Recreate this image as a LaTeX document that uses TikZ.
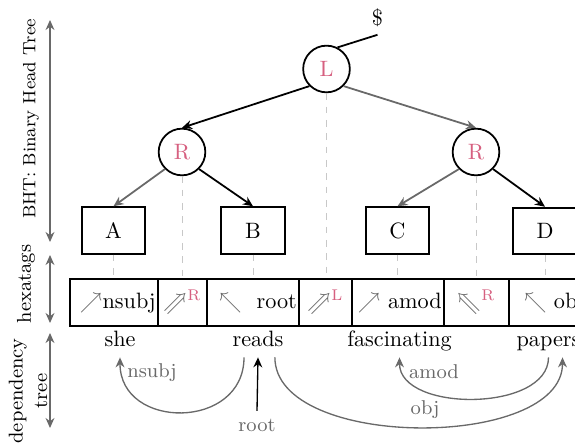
\documentclass[tikz,border=0pt]{standalone}
\usepackage{amsmath}
\usepackage{unicode-math}
\usepackage{tikz}
\usetikzlibrary{arrows.meta}

\definecolor{edgegray}{RGB}{105,105,105}
\definecolor{dashgray}{RGB}{200,200,200}
\definecolor{tagpink}{RGB}{214,96,128}

\tikzset{
  headnode/.style={draw, thick, circle, minimum size=21pt, inner sep=0pt, text=tagpink},
  leafnode/.style={draw, thick, minimum width=28.5pt, minimum height=21pt, inner sep=0pt},
  tagcell/.style={draw, thick, minimum height=21pt, inner xsep=1pt, inner ysep=0pt, outer sep=0pt, text height=1.5ex, text depth=.25ex},
  wordnode/.style={anchor=base, text height=1.5ex, text depth=.25ex, inner sep=3.4pt},
  treeedge/.style={thick, -{Stealth[length=4.5pt,width=4pt]}},
  grayedge/.style={treeedge, edgegray},
  proj/.style={dashgray, dashed, thin},
  deparc/.style={semithick, edgegray, -{Stealth[length=4.5pt,width=4pt]}},
  deplabel/.style={text=edgegray, font=\small},
  sideaxis/.style={semithick, edgegray, {Stealth[length=4.5pt,width=4pt]}-{Stealth[length=4.5pt,width=4pt]}},
}
\newcommand{\hexarr}[1]{\textcolor{edgegray}{$#1$}}
\newcommand{\hexdbl}[2]{$\textcolor{edgegray}{#1}^{\textcolor{tagpink}{\mathrm{#2}}}$}

\begin{document}
\begin{tikzpicture}[x=0.45pt,y=0.45pt,yscale=-1,xscale=1]
\useasboundingbox (0,0) rectangle (575,443);
\clip (0,0) rectangle (575,443);

%Side axes
\coordinate (bhtTop) at (50,20);
\coordinate (bhtBot) at (50,242);
\coordinate (hexTop) at (50,255);
\coordinate (hexBot) at (50,323);
\coordinate (depTop) at (50,333);
\coordinate (depBot) at (50,428);
\draw[sideaxis] (bhtTop) -- (bhtBot);
\draw[sideaxis] (hexTop) -- (hexBot);
\draw[sideaxis] (depTop) -- (depBot);
% Text Node
\node[rotate=90, font=\footnotesize] (bhtLabel) at (31,119) {BHT: Binary Head Tree};
\node[rotate=90, font=\small] (hexLabel) at (26,284) {hexatags};
\node[rotate=90, font=\small, align=center, inner sep=0pt] (depLabel) at (28,391) {dependency\\tree};

%Shape: Circle
\node[headnode] (L) at (326.5,69) {L};
\node[headnode] (Rl) at (182,152) {R};
\node[headnode] (Rr) at (476,152) {R};
%Shape: Rectangle
\node[leafnode] (A) at (113.5,230.5) {A};
\node[leafnode] (B) at (253,230.5) {B};
\node[leafnode] (C) at (397.5,230.5) {C};
\node[leafnode] (D) at (545,231) {D};
% Text Node
\node (dollar) at (377.5,18) {\$};

%Straight Lines
\draw[thick] (L.63) -- (dollar.south);
\draw[treeedge] (L.south west) -- (Rl.north);
\draw[grayedge] (L.south east) -- (Rr.north);
\draw[grayedge] (Rl.south west) -- (A.north);
\draw[treeedge] (Rl.south east) -- (B.north);
\draw[grayedge] (Rr.south west) -- (C.north);
\draw[treeedge] (Rr.south east) -- (D.north);

%Hexatag cells
\node[tagcell, text width=37.6pt, align=right] (cell1) at (114,302.5) {\hexarr{\nearrow}nsubj};
\node[tagcell, text width=20.05pt, align=center] (cell2) at (182.5,302.5) {\hexdbl{\Nearrow}{R}};
\node[tagcell, text width=39.4pt, align=right] (cell3) at (253,302.5) {\hexarr{\nwarrow}\ \ root};
\node[tagcell, text width=21.85pt, align=center] (cell4) at (325.5,302.5) {\hexdbl{\Nearrow}{L}};
\node[tagcell, text width=39.4pt, align=right] (cell5) at (398,302.5) {\hexarr{\nearrow}\ amod};
\node[tagcell, text width=27.25pt, align=center] (cell6) at (476.5,302.5) {\hexdbl{\Nwarrow}{R}};
\node[tagcell, text width=33.1pt, align=right] (cell7) at (548,302.5) {\hexarr{\nwarrow}\ obj};

%Dashed Lines
\draw[proj] (L.south) -- (L.south |- cell4.north);
\draw[proj] (Rl.south) -- (Rl.south |- cell2.north);
\draw[proj] (Rr.south) -- (Rr.south |- cell6.north);
\draw[proj] (A.south) -- (A.south |- cell1.north);
\draw[proj] (B.south) -- (B.south |- cell3.north);
\draw[proj] (C.south) -- (C.south |- cell5.north);
\draw[proj] (D.south) -- (D.south |- cell7.north);

% Text Node
\node[wordnode] (she) at (120,347) {she};
\node[wordnode] (reads) at (258,347) {reads};
\node[wordnode] (fascinating) at (399.5,347) {fascinating};
\node[wordnode] (papers) at (548.5,347) {papers};

%Curve Lines
\draw[deparc] ([xshift=-6.3pt]reads.south) .. controls +(0,73) and +(0,73) .. (she.south);
\draw[deparc] ([xshift=7.6pt]reads.south) .. controls +(0,93) and +(0,93) .. ([xshift=6.3pt]papers.south);
\draw[deparc] (papers.south) .. controls +(0,55) and +(0,55) .. (fascinating.south);
% Text Node
\node[deplabel] (nsubjLbl) at (152,373) {nsubj};
\node[deplabel] (amodLbl) at (434,372) {amod};
\node[deplabel] (objLbl) at (425,410) {obj};
\node[deplabel] (rootLbl) at (257,425) {root};
\draw[treeedge, semithick] (rootLbl.north) -- (reads.south);

\end{tikzpicture}
\end{document}
